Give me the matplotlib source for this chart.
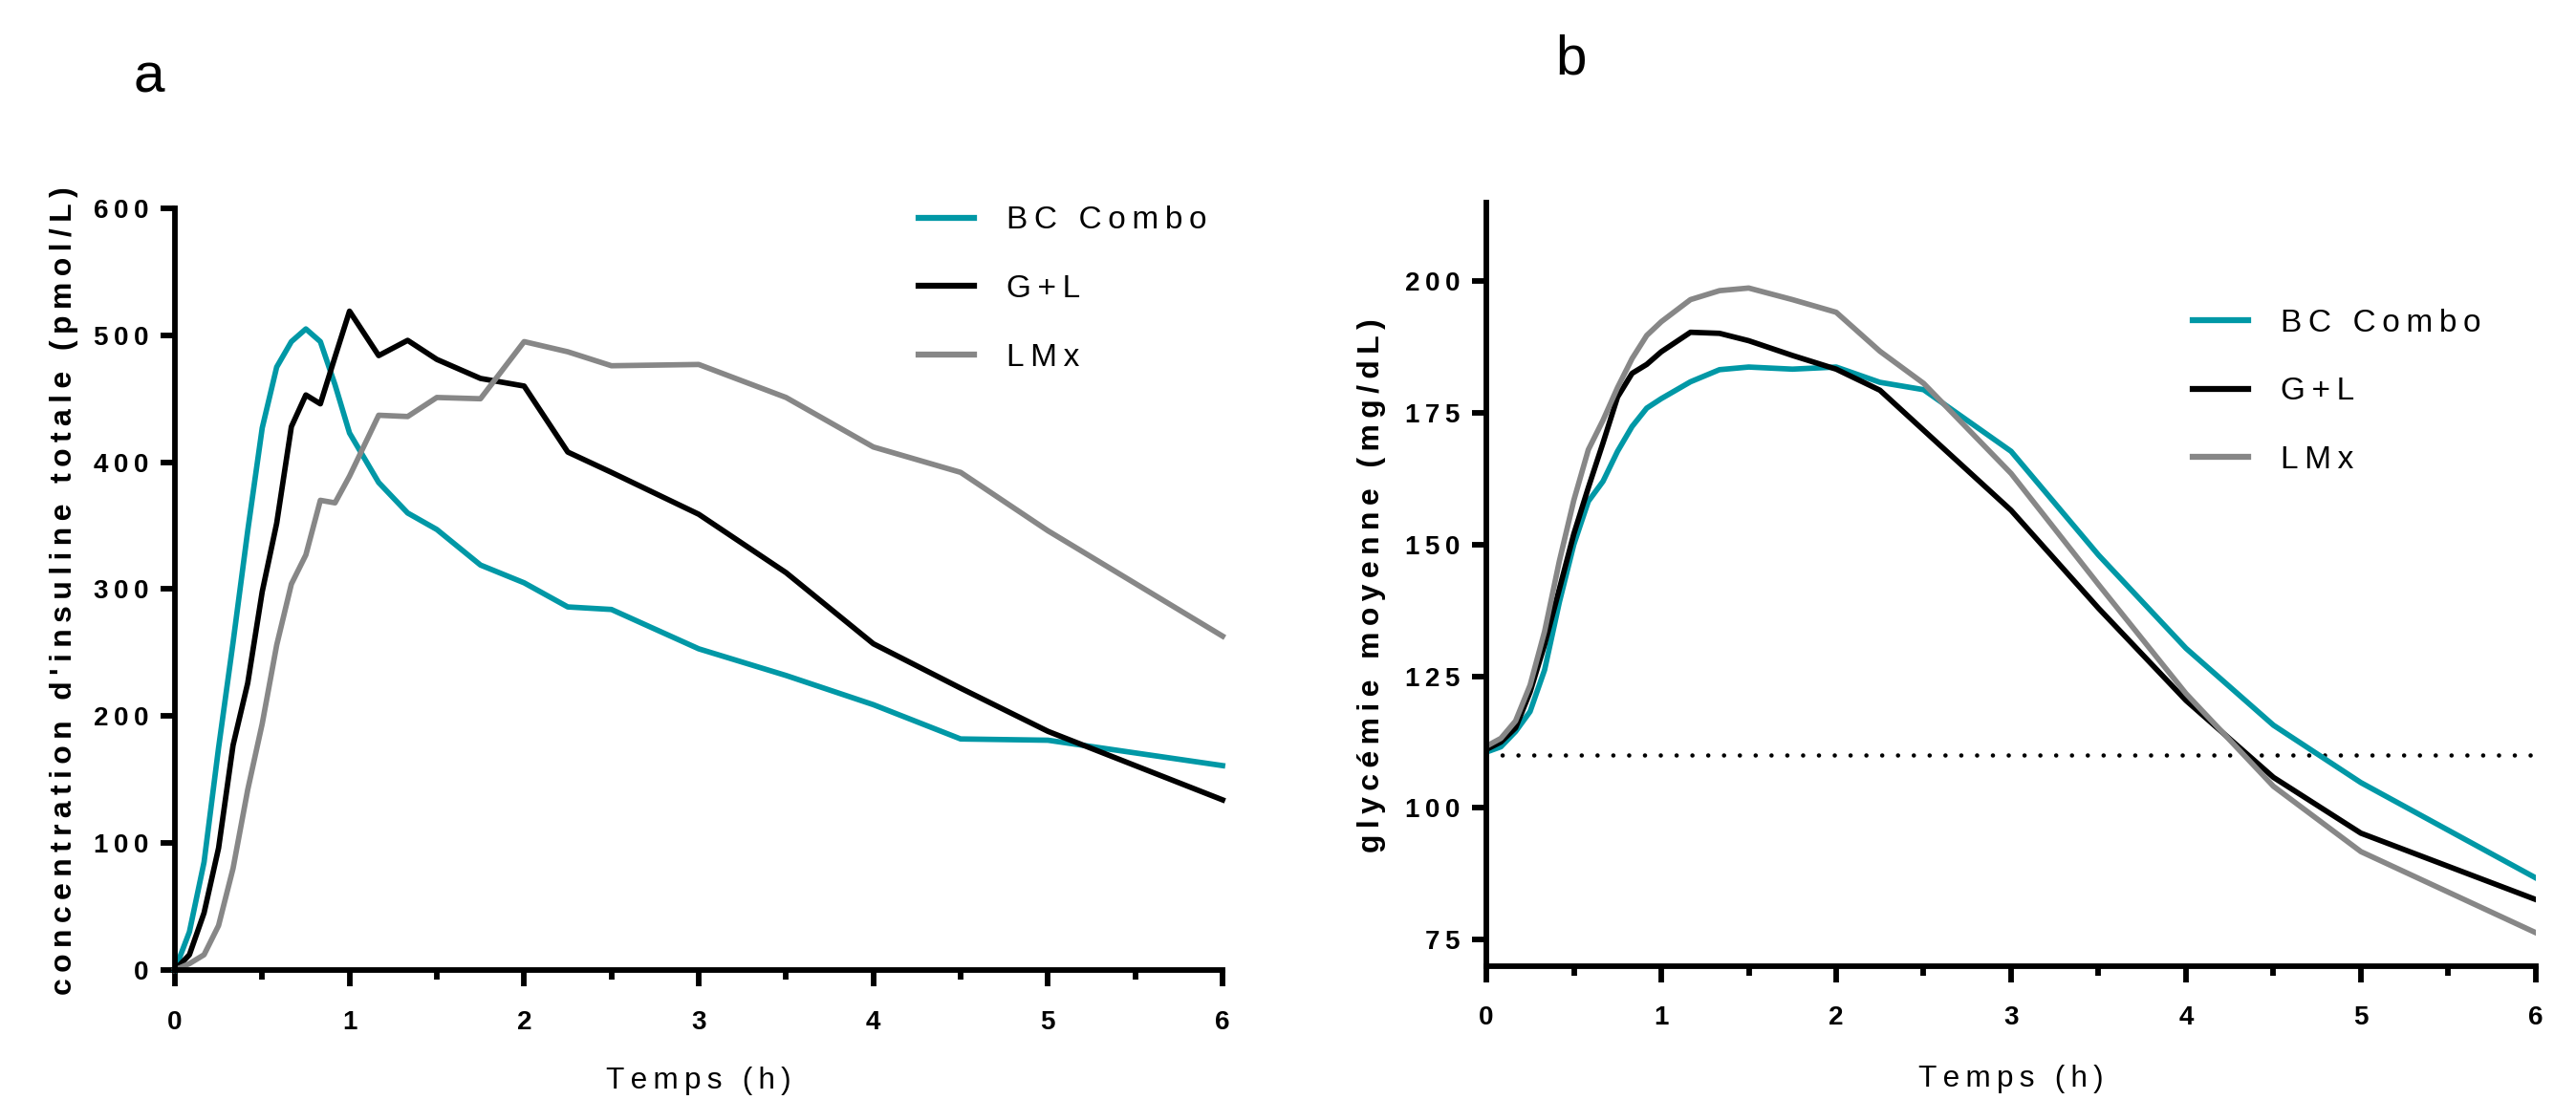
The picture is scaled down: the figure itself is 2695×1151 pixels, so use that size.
import matplotlib
matplotlib.use("Agg")
import matplotlib.pyplot as plt
from matplotlib.font_manager import FontProperties
from matplotlib.ticker import MultipleLocator

# sampling times (h): every 5 min during the first hour, then sparser
TIME_H = [0, 0.083, 0.167, 0.25, 0.333, 0.417, 0.5, 0.583, 0.667, 0.75, 0.833, 0.917, 1.0,
          1.167, 1.333, 1.5, 1.75, 2.0, 2.25, 2.5, 3.0, 3.5, 4.0, 4.5, 5.0, 6.0]

# panel a: total insulin concentration (pmol/L)
INSULIN_BC = [0, 30, 85, 175, 258, 346, 427, 475, 495, 505, 495, 461, 423,
              384, 360, 347, 319, 305, 286, 284, 253, 232, 209, 182, 181, 161]
INSULIN_GL = [0, 12, 45, 96, 177, 226, 298, 352, 428, 453, 446, 483, 519,
              484, 496, 481, 466, 460, 408, 392, 359, 313, 257, 222, 188, 134]
INSULIN_LMX = [0, 5, 12, 35, 80, 142, 194, 256, 304, 327, 370, 368, 389,
               437, 436, 451, 450, 495, 487, 476, 477, 451, 412, 392, 346, 263]

# panel b: mean glycaemia (mg/dL)
GLUCOSE_BC = [110.6, 111.6, 114.5, 118.3, 126.2, 139.0, 150.0, 158.2, 162.0, 167.7, 172.4, 175.9, 177.7,
              180.9, 183.2, 183.7, 183.3, 183.7, 180.8, 179.4, 167.7, 148.0, 130.3, 115.7, 104.8, 86.7]
GLUCOSE_GL = [111.1, 112.5, 115.2, 122.0, 131.0, 141.5, 152.0, 160.8, 169.3, 178.0, 182.5, 184.2, 186.6,
              190.3, 190.1, 188.7, 185.9, 183.3, 179.3, 171.7, 156.5, 137.9, 120.4, 105.8, 95.2, 82.6]
GLUCOSE_LMX = [111.7, 113.2, 116.5, 123.3, 133.5, 146.8, 158.4, 168.0, 173.6, 179.8, 185.3, 189.7, 192.3,
               196.5, 198.2, 198.7, 196.5, 194.1, 186.7, 180.6, 163.5, 142.4, 121.7, 104.1, 91.7, 76.3]
GLUCOSE_TARGET = 110

SERIES = ["BC Combo", "G+L", "LMx"]
COLORS = ["#0098a6", "#000000", "#878787"]

X_TICKS = [0, 1, 2, 3, 4, 5, 6]
INSULIN_TICKS = [0, 100, 200, 300, 400, 500, 600]
GLUCOSE_TICKS = [75, 100, 125, 150, 175, 200]

THIN = "\u2009"
FONT = ["Liberation Sans", "DejaVu Sans"]
LINE_W = 4.1
SPINE_W = 4.2


def spaced(text: str) -> str:
    return THIN.join(text)


def style_axes(ax, ylim, yticks, legend_xy) -> None:
    for side in ("top", "right"):
        ax.spines[side].set_visible(False)
    for side in ("left", "bottom"):
        ax.spines[side].set_linewidth(SPINE_W)
    ax.set_xlim(0, 6)
    ax.set_ylim(*ylim)
    ax.set_xticks(X_TICKS)
    ax.xaxis.set_minor_locator(MultipleLocator(0.5))
    ax.set_xticklabels([str(t) for t in X_TICKS], family=FONT, fontsize=20, fontweight="bold")
    ax.set_yticks(yticks)
    ax.set_yticklabels([spaced(str(v)) for v in yticks], family=FONT, fontsize=20, fontweight="bold")
    ax.tick_params(axis="x", which="major", length=12, width=SPINE_W, pad=18)
    ax.tick_params(axis="x", which="minor", length=7, width=SPINE_W)
    ax.tick_params(axis="y", which="major", length=10.6, width=SPINE_W, pad=9.5)

    leg = ax.legend(loc="upper left", bbox_to_anchor=legend_xy, bbox_transform=ax.figure.transFigure,
                    frameon=False, borderpad=0, borderaxespad=0, handlelength=1.74,
                    handletextpad=1.02, labelspacing=1.22,
                    prop=FontProperties(family=FONT, size=24))
    for line in leg.get_lines():
        line.set_linewidth(LINE_W + 0.4)


fig = plt.figure(figsize=(26.95, 11.51), dpi=100)
ax_a = fig.add_axes([0.0679, 0.1182, 0.4067, 0.6924])
ax_b = fig.add_axes([0.5770, 0.1219, 0.4074, 0.6943])

for name, color, values in zip(SERIES, COLORS, [INSULIN_BC, INSULIN_GL, INSULIN_LMX]):
    ax_a.plot(TIME_H, values, color=color, linewidth=LINE_W, label=spaced(name), clip_on=False)
style_axes(ax_a, (0, 600), INSULIN_TICKS, (0.3566, 0.8128))

# target glycaemia, dotted
ax_b.plot([0, 6], [GLUCOSE_TARGET, GLUCOSE_TARGET], color="black", linewidth=3.3,
          linestyle=(0, (0.01, 3.6)), dash_capstyle="round")
for name, color, values in zip(SERIES, COLORS, [GLUCOSE_BC, GLUCOSE_GL, GLUCOSE_LMX]):
    ax_b.plot(TIME_H, values, color=color, linewidth=LINE_W, label=spaced(name))
style_axes(ax_b, (70, 215), GLUCOSE_TICKS, (0.8512, 0.7196))

fig.text(0.0249, 0.463, spaced("concentration d'insuline totale (pmol/L)"), rotation=90,
         ha="center", va="center", family=FONT, fontsize=23, fontweight="bold")
fig.text(0.5325, 0.4674, spaced("glycémie moyenne (mg/dL)"), rotation=90,
         ha="center", va="center", family=FONT, fontsize=23, fontweight="bold")
fig.text(0.2712, 0.0102, spaced("Temps (h)"), ha="center", va="baseline", family=FONT, fontsize=22.7)
fig.text(0.7807, 0.0120, spaced("Temps (h)"), ha="center", va="baseline", family=FONT, fontsize=22.7)

fig.text(0.0579, 0.916, "a", ha="center", va="baseline", family=FONT, fontsize=42)
fig.text(0.6100, 0.9330, "b", ha="center", va="baseline", family=FONT, fontsize=42)

fig.savefig("out.png", dpi=100)
